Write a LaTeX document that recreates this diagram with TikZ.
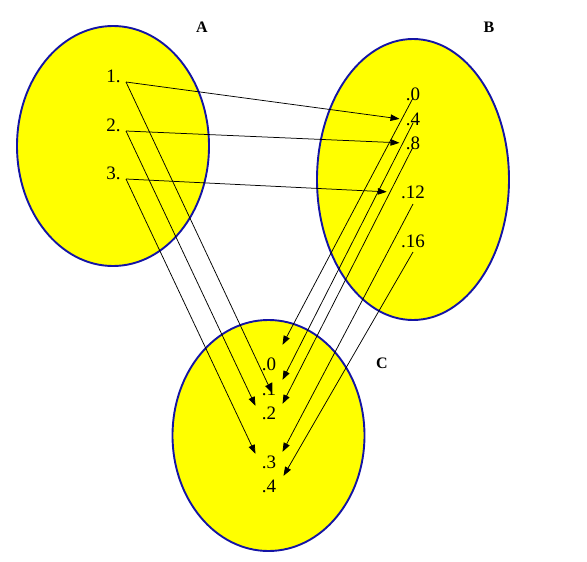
\documentclass[tikz,border=0pt]{standalone}
\usepackage{fontspec}
\setmainfont{Liberation Serif}
\usetikzlibrary{arrows.meta, shapes.geometric}
\definecolor{setblue}{RGB}{20,20,165}
\definecolor{setfill}{RGB}{255,255,0}

\begin{document}
\begin{tikzpicture}[
		x = 1pt, y = -1pt, % pixel grid, y downwards
		> = {Triangle[length=9pt, width=6.5pt]}, % arrow head style
		line width = 0.75pt % line style
		]
		
		\tikzstyle{set}=[
		ellipse,
		draw = setblue,
		line width = 1.9pt,
		fill = setfill,
		minimum width = 192pt,
		inner sep = 0pt
		]
		\tikzstyle{elem}=[font = \fontsize{19}{21}\selectfont, inner sep = 0pt]
		\tikzstyle{setname}=[font = \fontsize{16}{18}\selectfont\bfseries, inner sep = 0pt]
		
		\useasboundingbox (0,0) rectangle (587,562);
		
		\node[set, minimum height = 240pt] (set_a) at (113,146) {};
		\node[set, minimum height = 281pt] (set_b) at (413,179.5) {};
		\node[set, minimum height = 231pt] (set_c) at (268.5,435.5) {};
		
		\node[setname] (name_a) at (202,27) {A};
		\node[setname] (name_b) at (489,27) {B};
		\node[setname] (name_c) at (382,363) {C};
		
		\node[elem, anchor=base] (a_1) at (113.5,82) {1.};
		\node[elem, anchor=base] (a_2) at (113.5,131) {2.};
		\node[elem, anchor=base] (a_3) at (113.5,179) {3.};
		
		\node[elem, anchor=base] (b_0) at (413,100) {.0};
		\node[elem, anchor=base] (b_4) at (413,125) {.4};
		\node[elem, anchor=base] (b_8) at (413,149) {.8};
		\node[elem, anchor=base] (b_12) at (413,198) {.12};
		\node[elem, anchor=base] (b_16) at (413,247) {.16};
		
		\node[elem, anchor=base] (c_0) at (269,370) {.0};
		\node[elem, anchor=base] (c_1) at (269,395) {.1};
		\node[elem, anchor=base] (c_2) at (269,419) {.2};
		\node[elem, anchor=base] (c_3) at (269,468) {.3};
		\node[elem, anchor=base] (c_4) at (269,492) {.4};
		
		\draw[->] ([xshift=5pt]a_1.base east) -- ([xshift=-6pt]b_4.west);
		\draw[->] ([xshift=5pt]a_2.base east) -- ([xshift=-6pt]b_8.west);
		\draw[->] ([xshift=5pt]a_3.base east) -- ([xshift=-14pt]b_12.west);
		
		\draw[->] ([xshift=5pt]a_1.base east) -- ([xshift=3pt, yshift=-4pt]c_1.center);
		\draw[->] ([xshift=5pt]a_2.base east) -- ([xshift=-6pt, yshift=7pt]c_2.west);
		\draw[->] ([xshift=5pt]a_3.base east) -- ([xshift=-6pt, yshift=8pt]c_3.west);
		
		\draw[->] ([yshift=2pt]b_0.base) -- ([xshift=6pt, yshift=19pt]c_0.east);
		\draw[->] ([yshift=2pt]b_4.base) -- ([xshift=6pt, yshift=9pt]c_1.east);
		\draw[->] ([yshift=2pt]b_8.base) -- ([xshift=6pt, yshift=9pt]c_2.east);
		\draw[->] ([yshift=-6pt]b_12.base) -- ([xshift=6pt, yshift=10pt]c_3.east);
		\draw[->] ([yshift=-5pt]b_16.base) -- ([xshift=7pt, yshift=10pt]c_4.east);
\end{tikzpicture}
\end{document}
